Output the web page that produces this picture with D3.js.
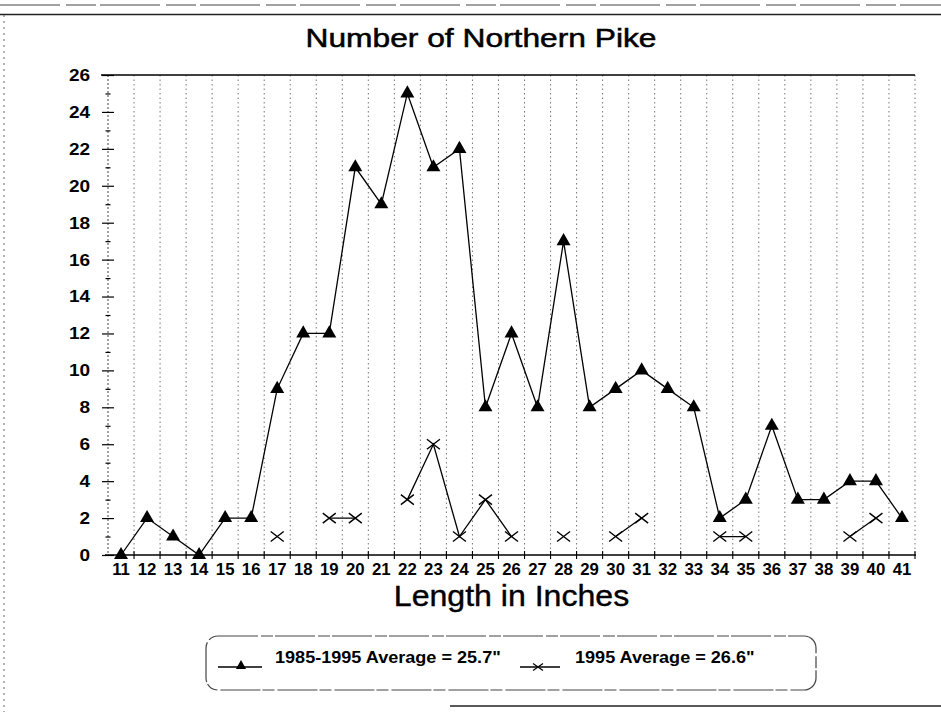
<!DOCTYPE html>
<html>
<head>
<meta charset="utf-8">
<script src="https://cdn.jsdelivr.net/npm/d3@7"></script>
<style>
  html, body { margin: 0; padding: 0; background: #fff; }
  svg { display: block; }
  text { font-family: "Liberation Sans", Arial, sans-serif; fill: #000; }
</style>
</head>
<body>
<svg id="chart" width="941" height="712"></svg>
<script>
// ---- data ----
const lengths = [11,12,13,14,15,16,17,18,19,20,21,22,23,24,25,26,27,28,29,30,31,32,33,34,35,36,37,38,39,40,41];
const avg1985to1995 = [0,2,1,0,2,2,9,12,12,21,19,25,21,22,8,12,8,17,8,9,10,9,8,2,3,7,3,3,4,4,2];
const avg1995 = [null,null,null,null,null,null,1,null,2,2,null,3,6,1,3,1,null,1,null,1,2,null,null,1,1,null,null,null,1,2,null];
const yMajorTicks = [0,2,4,6,8,10,12,14,16,18,20,22,24,26];
const yMinorTicks = [1,3,5,7,9,11,13,15,17,19,21,23,25];
const seriesNames = ['1985-1995 Average = 25.7"', '1995 Average = 26.6"'];
const titleText = "Number of Northern Pike";
const xTitleText = "Length in Inches";

// ---- layout ----
const svg = d3.select("#chart");
const pLeft = 108, pRight = 915, pTop = 75, pBottom = 555;

const x = d3.scaleBand().domain(lengths).range([pLeft, pRight]).paddingInner(0).paddingOuter(0);
const y = d3.scaleLinear().domain([0, 26]).range([pBottom, pTop]);
const bw = x.bandwidth();
const cx = d => x(d) + bw / 2;

// page frame (scan edges)
svg.append("line").attr("x1", 0).attr("x2", 941).attr("y1", 5).attr("y2", 5)
  .attr("stroke", "#444").attr("stroke-width", 1).attr("stroke-dasharray", "60,6,30,4");
svg.append("line").attr("x1", 0).attr("x2", 941).attr("y1", 14.5).attr("y2", 14.5)
  .attr("stroke", "#222").attr("stroke-width", 1.6);
svg.append("line").attr("x1", 4).attr("x2", 4).attr("y1", 15).attr("y2", 712)
  .attr("stroke", "#666").attr("stroke-width", 1).attr("stroke-dasharray", "2,4");
svg.append("line").attr("x1", 450).attr("x2", 941).attr("y1", 706).attr("y2", 706)
  .attr("stroke", "#222").attr("stroke-width", 1.4);

// title
svg.append("text").attr("transform", `translate(481,47) scale(1.27,1)`)
  .attr("text-anchor", "middle").attr("font-size", 25)
  .attr("stroke", "#000").attr("stroke-width", 0.5).text(titleText);

// vertical dotted gridlines at category boundaries
svg.append("g").selectAll("line").data(lengths).join("line")
  .attr("x1", d => x(d) + bw).attr("x2", d => x(d) + bw)
  .attr("y1", pTop).attr("y2", pBottom)
  .attr("stroke", "#777").attr("stroke-width", 1).attr("stroke-dasharray", "1.5,3");

// y axis line (dotted as in the scan)
svg.append("line").attr("x1", pLeft).attr("x2", pLeft).attr("y1", pTop).attr("y2", pBottom)
  .attr("stroke", "#444").attr("stroke-width", 1).attr("stroke-dasharray", "2,2");

// top border
svg.append("line").attr("x1", pLeft - 7).attr("x2", pRight).attr("y1", pTop).attr("y2", pTop)
  .attr("stroke", "#000").attr("stroke-width", 1.6);

// x axis line
svg.append("line").attr("x1", pLeft - 3).attr("x2", pRight + 1).attr("y1", pBottom).attr("y2", pBottom)
  .attr("stroke", "#000").attr("stroke-width", 1.4);

// left axis: major ticks + labels
const yAxis = svg.append("g").attr("transform", `translate(${pLeft},0)`)
  .call(d3.axisLeft(y).tickValues(yMajorTicks).tickSize(6).tickPadding(0));
yAxis.select(".domain").remove();
yAxis.selectAll(".tick line").attr("x1", -6).attr("x2", 6).attr("stroke", "#000").attr("stroke-width", 1.2);
yAxis.selectAll(".tick text")
  .attr("x", -16).attr("font-size", 17).attr("font-weight", "bold")
  .attr("font-family", "Liberation Sans, Arial, sans-serif")
  .attr("transform", "scale(1.12,1)");

// minor ticks
const yMinor = svg.append("g").attr("transform", `translate(${pLeft},0)`)
  .call(d3.axisLeft(y).tickValues(yMinorTicks).tickSize(0).tickFormat(""));
yMinor.select(".domain").remove();
yMinor.selectAll(".tick line").attr("x1", -2.5).attr("x2", 2.5).attr("stroke", "#000").attr("stroke-width", 1.2);

// bottom axis labels at category centres
const xAxis = svg.append("g").attr("transform", `translate(0,${pBottom})`)
  .call(d3.axisBottom(x).tickSize(0).tickPadding(0));
xAxis.select(".domain").remove();
xAxis.selectAll(".tick text")
  .attr("y", 9).attr("dy", "0.71em").attr("font-size", 16).attr("font-weight", "bold")
  .attr("font-family", "Liberation Sans, Arial, sans-serif")
  .attr("transform", "scale(1.05,1)");

// boundary tick marks on x axis
svg.append("g").selectAll("line").data(lengths).join("line")
  .attr("x1", d => x(d) + bw).attr("x2", d => x(d) + bw)
  .attr("y1", pBottom - 4).attr("y2", pBottom + 4)
  .attr("stroke", "#000").attr("stroke-width", 1.1);

// x axis title
svg.append("text").attr("transform", `translate(${(pLeft + pRight) / 2},606) scale(1.07,1)`)
  .attr("text-anchor", "middle").attr("font-size", 30)
  .attr("stroke", "#000").attr("stroke-width", 0.4).text(xTitleText);

// ---- series ----
const data1 = lengths.map((l, i) => ({ l, v: avg1985to1995[i] }));
const data2 = lengths.map((l, i) => ({ l, v: avg1995[i] }));

const line = d3.line().defined(d => d.v !== null).x(d => cx(d.l)).y(d => y(d.v));

svg.append("path").datum(data1).attr("d", line)
  .attr("fill", "none").attr("stroke", "#000").attr("stroke-width", 1.3);
svg.append("path").datum(data2).attr("d", line)
  .attr("fill", "none").attr("stroke", "#000").attr("stroke-width", 1.3);

const tri = d3.symbol().type(d3.symbolTriangle).size(85);
svg.append("g").selectAll("path").data(data1).join("path")
  .attr("transform", d => `translate(${cx(d.l)},${y(d.v)})`)
  .attr("d", tri).attr("fill", "#000");

const crossPath = "M-6.5,-5L6.5,5M-6.5,5L6.5,-5";
svg.append("g").selectAll("path").data(data2.filter(d => d.v !== null)).join("path")
  .attr("transform", d => `translate(${cx(d.l)},${y(d.v)})`)
  .attr("d", crossPath).attr("fill", "none").attr("stroke", "#000").attr("stroke-width", 1.4);

// ---- legend ----
const lg = svg.append("g");
lg.append("rect").attr("x", 206).attr("y", 636).attr("width", 610).attr("height", 54)
  .attr("rx", 12).attr("ry", 12)
  .attr("fill", "none").attr("stroke", "#444").attr("stroke-width", 1.2).attr("stroke-dasharray", "40,3,12,2");

const legendY = 661;
// item 1
lg.append("line").attr("x1", 218).attr("x2", 262).attr("y1", legendY + 6).attr("y2", legendY + 6)
  .attr("stroke", "#000").attr("stroke-width", 1.3);
lg.append("path").attr("transform", `translate(241,${legendY + 5})`)
  .attr("d", d3.symbol().type(d3.symbolTriangle).size(45)).attr("fill", "#000");
lg.append("text").attr("transform", `translate(275,${legendY + 2}) scale(1.13,1)`)
  .attr("font-size", 16).attr("font-weight", "bold").text(seriesNames[0]);
// item 2
lg.append("line").attr("x1", 520).attr("x2", 560).attr("y1", legendY + 6).attr("y2", legendY + 6)
  .attr("stroke", "#000").attr("stroke-width", 1.3);
lg.append("path").attr("transform", `translate(538,${legendY + 6})`)
  .attr("d", "M-5,-3.5L5,3.5M-5,3.5L5,-3.5").attr("fill", "none").attr("stroke", "#000").attr("stroke-width", 1.2);
lg.append("text").attr("transform", `translate(575,${legendY + 2}) scale(1.13,1)`)
  .attr("font-size", 16).attr("font-weight", "bold").text(seriesNames[1]);
</script>
</body>
</html>
